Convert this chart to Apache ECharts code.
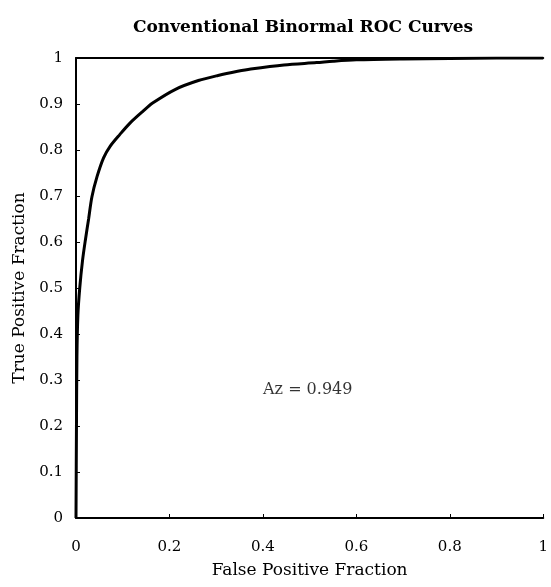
<!DOCTYPE html>
<html>
<head>
<meta charset="utf-8">
<script src="https://cdn.jsdelivr.net/npm/echarts@6/dist/echarts.min.js"></script>
<style>html,body{margin:0;padding:0;background:#fff;}#c{width:551px;height:587px;}</style>
</head>
<body>
<div id="c"></div>
<script>
const titleText = "Conventional Binormal ROC Curves";
const xName = "False Positive Fraction";
const yName = "True Positive Fraction";
const fpf = [0, 0.001, 0.002, 0.004, 0.008, 0.014, 0.020, 0.027, 0.034, 0.045, 0.059, 0.073, 0.094, 0.115, 0.143, 0.164, 0.213, 0.262, 0.304, 0.346, 0.374, 0.445, 0.515, 0.55, 0.6, 0.7, 0.8, 0.9, 1];
const tpf = [0, 0.2, 0.35, 0.44, 0.50, 0.56, 0.604, 0.65, 0.698, 0.742, 0.783, 0.808, 0.834, 0.858, 0.884, 0.902, 0.932, 0.951, 0.962, 0.971, 0.976, 0.985, 0.990, 0.993, 0.996, 0.998, 0.999, 1, 1];
const annotation = [{x: 0.496, y: 0.278, text: "Az = 0.949"}];

const font = "DejaVu Serif";
const chart = echarts.init(document.getElementById('c'), null, {renderer: 'canvas'});
chart.setOption({
  animation: false,
  backgroundColor: '#fff',
  title: {
    text: titleText, left: 128, top: 14,
    textStyle: {fontFamily: font, fontWeight: 'bold', fontSize: 17, color: '#000'}
  },
  grid: {left: 76, top: 58, right: 1, bottom: 69},
  xAxis: [{
    type: 'value', min: 0, max: 1, interval: 0.2,
    name: xName, nameLocation: 'middle', nameGap: 44,
    nameTextStyle: {fontFamily: font, fontSize: 17, color: '#000'},
    axisLine: {show: true, lineStyle: {color: '#000', width: 2}},
    axisTick: {show: true, inside: true, length: 4, lineStyle: {color: '#000'}},
    axisLabel: {fontFamily: font, fontSize: 15, color: '#000', margin: 22},
    splitLine: {show: false}
  }, {
    type: 'value', min: 0, max: 1, position: 'top',
    axisLine: {show: true, lineStyle: {color: '#000', width: 2}},
    axisTick: {show: false}, axisLabel: {show: false}, splitLine: {show: false}
  }],
  yAxis: {
    type: 'value', min: 0, max: 1, interval: 0.1,
    name: yName, nameLocation: 'middle', nameGap: 48,
    nameTextStyle: {fontFamily: font, fontSize: 17, color: '#000'},
    axisLine: {show: true, lineStyle: {color: '#000', width: 2}},
    axisTick: {show: true, inside: true, length: 4, lineStyle: {color: '#000'}},
    axisLabel: {fontFamily: font, fontSize: 15, color: '#000', margin: 13},
    splitLine: {show: false}
  },
  series: [{
    type: 'line', xAxisIndex: 0,
    data: fpf.map((v, i) => [v, tpf[i]]),
    showSymbol: false, symbol: 'none', smooth: 0.3,
    lineStyle: {color: '#000', width: 3}
  }, {
    type: 'scatter', xAxisIndex: 0, symbolSize: 0,
    data: annotation.map(a => ({value: [a.x, a.y], name: a.text})),
    label: {show: true, position: 'inside', formatter: p => p.name,
      fontFamily: font, fontSize: 16, color: '#000'}
  }]
});
</script>
</body>
</html>
